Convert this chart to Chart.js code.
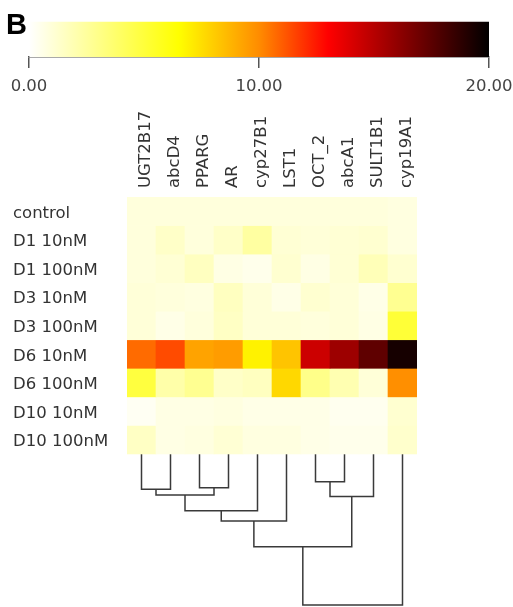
<!DOCTYPE html>
<html>
<head>
<meta charset="utf-8">
<script src="https://cdn.jsdelivr.net/npm/chart.js@4"></script>
<style>
  body { margin: 0; background: #fff; }
  #wrap { position: relative; width: 513px; height: 607px; }
  #panel { position: absolute; left: 6px; top: 8px; font: bold 29px "Liberation Sans", Arial, sans-serif; color: #000; }
  #barCanvas { position: absolute; left: 0; top: 0; }
  #heatCanvas { position: absolute; left: 0; top: 100px; }
</style>
</head>
<body>
<div id="wrap">
  <canvas id="barCanvas" width="513" height="100"></canvas>
  <canvas id="heatCanvas" width="513" height="507"></canvas>
  <div id="panel">B</div>
</div>
<script>
// genes (columns) and samples (rows)
const genes = ["UGT2B17", "abcD4", "PPARG", "AR", "cyp27B1", "LST1", "OCT_2", "abcA1", "SULT1B1", "cyp19A1"];
const conditions = ["control", "D1 10nM", "D1 100nM", "D3 10nM", "D3 100nM", "D6 10nM", "D6 100nM", "D10 10nM", "D10 100nM"];

// values per row
const control  = [0.9, 0.9, 0.9, 0.9, 0.9, 0.9, 0.9, 0.9, 0.9, 0.8];
const d1_10    = [0.9, 1.4, 0.9, 1.4, 2.4, 1.1, 1.0, 1.1, 1.2, 0.8];
const d1_100   = [0.9, 1.1, 1.6, 0.7, 0.5, 1.2, 0.7, 1.1, 1.8, 1.2];
const d3_10    = [1.0, 0.9, 0.8, 1.6, 1.0, 0.6, 1.2, 1.0, 0.6, 2.8];
const d3_100   = [1.0, 0.6, 0.9, 1.5, 1.0, 1.0, 0.9, 1.0, 0.7, 5.1];
const d6_10    = [10.7, 11.4, 9.3, 9.5, 6.9, 8.3, 14.4, 15.7, 17.4, 19.4];
const d6_100   = [4.9, 2.2, 2.8, 1.4, 1.6, 7.7, 3.0, 2.0, 1.0, 9.9];
const d10_10   = [0.3, 0.7, 0.7, 0.8, 0.6, 0.6, 0.6, 0.4, 0.4, 1.2];
const d10_100  = [1.5, 0.7, 0.8, 1.1, 0.8, 0.8, 0.6, 0.5, 0.5, 1.3];
const rows = [control, d1_10, d1_100, d3_10, d3_100, d6_10, d6_100, d10_10, d10_100];

// colour key
const keyTicks = [0, 10, 20];
const colorStops = [0, 6.5, 10, 13, 20];
const stopColors = ["#ffffff", "#ffff00", "#ff8c00", "#ff0000", "#000000"];

// gene dendrogram (hclust style: negative = leaf, positive = earlier merge)
const mergeLeft   = [-7, -3, -1, 3, 1, 4, 6, 7, 8];
const mergeRight  = [-8, -4, -2, 2, -9, -5, -6, 5, -10];
const mergeHeight = [0.97, 1.18, 1.24, 1.44, 1.49, 1.99, 2.35, 3.25, 5.29];
const dendroDepth = 5.29;

Chart.defaults.font.family = "'DejaVu Sans', sans-serif";
Chart.defaults.animation = false;

function hex(c) {
  return [parseInt(c.slice(1, 3), 16), parseInt(c.slice(3, 5), 16), parseInt(c.slice(5, 7), 16)];
}
function heatColor(v) {
  let k = 0;
  while (k < colorStops.length - 2 && v > colorStops[k + 1]) k++;
  const t = Math.max(0, Math.min(1, (v - colorStops[k]) / (colorStops[k + 1] - colorStops[k])));
  const a = hex(stopColors[k]), b = hex(stopColors[k + 1]);
  const c = a.map((x, i) => Math.round(x + (b[i] - x) * t));
  return `rgb(${c[0]},${c[1]},${c[2]})`;
}

// colour key bar
new Chart(document.getElementById("barCanvas"), {
  type: "bar",
  data: {
    datasets: [{
      data: [{ x: [keyTicks[0], keyTicks[keyTicks.length - 1]], y: 0.5 }],
      barThickness: 35,
      borderWidth: 0,
      backgroundColor: function (context) {
        const chart = context.chart;
        if (!chart.chartArea) return "#fff";
        const xs = chart.scales.x;
        const g = chart.ctx.createLinearGradient(xs.getPixelForValue(0), 0, xs.getPixelForValue(20), 0);
        colorStops.forEach((v, k) => g.addColorStop(v / 20, stopColors[k]));
        return g;
      }
    }]
  },
  options: {
    responsive: false,
    indexAxis: "y",
    layout: { padding: { left: 29, right: 24, top: 14, bottom: 0 } },
    plugins: { legend: { display: false }, tooltip: { enabled: false } },
    scales: {
      y: { type: "linear", min: 0, max: 1.23, display: false, offset: false },
      x: {
        type: "linear", position: "bottom", min: 0, max: 20,
        afterBuildTicks: scale => { scale.ticks = keyTicks.map(v => ({ value: v })); },
        afterFit: scale => { scale.height = 43; scale.paddingLeft = 0; scale.paddingRight = 0; },
        grid: { drawOnChartArea: false, tickLength: 11, color: "#555", lineWidth: 1.5 },
        border: { display: true, color: "#555", width: 1.5 },
        ticks: { padding: 9, color: "#444", font: { size: 16.5 }, maxRotation: 0, callback: v => v.toFixed(2) }
      }
    }
  }
});

// heatmap cells
const datasets = rows.map((vals, i) => ({
  type: "bar",
  data: vals.map((v, j) => ({ x: j, y: [i, i + 1] })),
  backgroundColor: vals.map(heatColor),
  borderWidth: 0,
  barPercentage: 1,
  categoryPercentage: 1,
  grouped: false
}));

// dendrogram links
const nodeX = [], nodeH = [];
function pos(id) {
  return id < 0 ? [-id - 1, 0] : [nodeX[id - 1], nodeH[id - 1]];
}
mergeLeft.forEach((l, m) => {
  const [xl, hl] = pos(l);
  const [xr, hr] = pos(mergeRight[m]);
  const h = mergeHeight[m];
  nodeX.push((xl + xr) / 2);
  nodeH.push(h);
  const base = conditions.length;
  datasets.push({
    type: "line",
    data: [{ x: xl, y: base + hl }, { x: xl, y: base + h }, { x: xr, y: base + h }, { x: xr, y: base + hr }],
    borderColor: "#3a3a3a",
    borderWidth: 1.5,
    pointRadius: 0,
    tension: 0,
    fill: false,
    clip: false
  });
});

new Chart(document.getElementById("heatCanvas"), {
  type: "bar",
  data: { datasets: datasets },
  options: {
    responsive: false,
    layout: { padding: { left: 13, right: 96, top: 0, bottom: 2 } },
    plugins: { legend: { display: false }, tooltip: { enabled: false } },
    scales: {
      x: {
        type: "linear", position: "top", offset: false, min: -0.5, max: genes.length - 0.5,
        afterBuildTicks: scale => { scale.ticks = genes.map((g, j) => ({ value: j })); },
        afterFit: scale => { scale.height = 97; scale.paddingLeft = 0; scale.paddingRight = 0; },
        grid: { display: false, drawTicks: false, offset: false },
        border: { display: false },
        ticks: { autoSkip: false, minRotation: 90, maxRotation: 90, padding: 9, labelOffset: 24,
                 color: "#333", font: { size: 16.5 }, callback: (v, i) => genes[i] }
      },
      y: {
        type: "linear", reverse: true, offset: false, min: 0, max: conditions.length + dendroDepth,
        afterBuildTicks: scale => { scale.ticks = conditions.map((c, i) => ({ value: i + 0.58 })); },
        afterFit: scale => { scale.width = 114; scale.paddingTop = 0; scale.paddingBottom = 0; },
        grid: { display: false, drawTicks: false },
        border: { display: false },
        ticks: { crossAlign: "far", padding: 0, color: "#333", font: { size: 16.5 },
                 callback: (v, i) => conditions[i] }
      }
    }
  }
});
</script>
</body>
</html>
